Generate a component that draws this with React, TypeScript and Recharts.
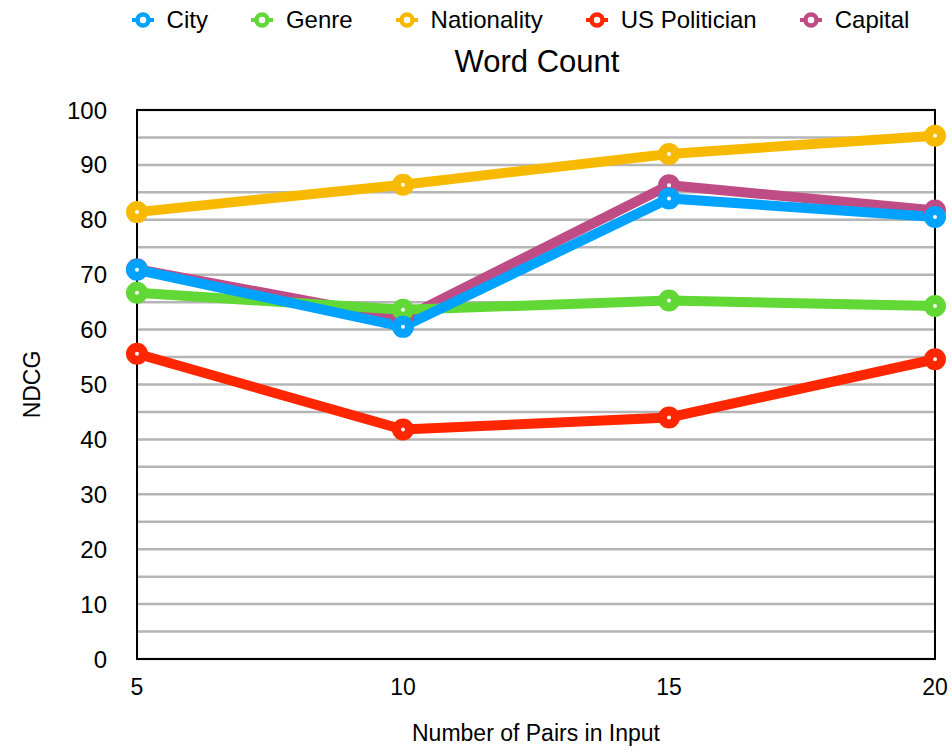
import { LineChart, Line, XAxis, YAxis, CartesianGrid, ReferenceArea, Label } from "recharts";

const pairs = [5, 10, 15, 20];
const city = [70.9, 60.5, 83.9, 80.5];
const genre = [66.7, 63.6, 65.3, 64.3];
const nationality = [81.4, 86.4, 92, 95.3];
const usPolitician = [55.6, 41.8, 44, 54.6];
const capital = [71, 62, 86.3, 81.7];
const yTicks = [0, 5, 10, 15, 20, 25, 30, 35, 40, 45, 50, 55, 60, 65, 70, 75, 80, 85, 90, 95, 100];
const xTicks = [5, 10, 15, 20];

const series = [
  { key: "city", name: "City", color: "#00a2ff", values: city },
  { key: "genre", name: "Genre", color: "#61d836", values: genre },
  { key: "nationality", name: "Nationality", color: "#f8ba00", values: nationality },
  { key: "us", name: "US Politician", color: "#ff2600", values: usPolitician },
  { key: "capital", name: "Capital", color: "#c04c86", values: capital },
];
// draw order: capital underneath, city on top
const drawOrder = ["capital", "genre", "us", "nationality", "city"];

const data = pairs.map((p, i) => {
  const row: Record<string, number> = { pairs: p };
  series.forEach((s) => (row[s.key] = s.values[i]));
  return row;
});

const font = "'Liberation Sans', Arial, Helvetica, sans-serif";

function LegendIcon({ color }: { color: string }) {
  return (
    <svg width={24} height={18} style={{ marginRight: 12 }}>
      <line x1={1} y1={9} x2={23} y2={9} stroke={color} strokeWidth={4} />
      <circle cx={12} cy={9} r={5.5} fill="#fff" stroke={color} strokeWidth={4.5} />
    </svg>
  );
}

export default function App() {
  return (
    <div style={{ position: "absolute", left: 0, top: 0, width: 952, height: 753, background: "#fff", fontFamily: font }}>
      <div style={{ position: "absolute", top: 6, left: 0, width: 1040, display: "flex", justifyContent: "center", gap: 42, fontSize: 24, color: "#000" }}>
        {series.map((s) => (
          <div key={s.key} style={{ display: "flex", alignItems: "center" }}>
            <LegendIcon color={s.color} />
            <span>{s.name}</span>
          </div>
        ))}
      </div>
      <div style={{ position: "absolute", top: 44, left: 0, width: 1074, textAlign: "center", fontSize: 31, color: "#000" }}>
        Word Count
      </div>
      <LineChart width={952} height={753} data={data} margin={{ top: 110, right: 17, bottom: 54, left: 20 }}>
        <CartesianGrid vertical={false} stroke="#b5b5b5" strokeWidth={2.5} />
        <XAxis
          dataKey="pairs"
          type="number"
          domain={[5, 20]}
          ticks={xTicks}
          tickSize={0}
          tickMargin={20}
          height={40}
          axisLine={{ stroke: "#000", strokeWidth: 2 }}
          tick={{ fill: "#000", fontSize: 23, fontFamily: font }}
        >
          <Label value="Number of Pairs in Input" position="insideBottom" offset={-42} fill="#000" fontSize={23} fontFamily={font} />
        </XAxis>
        <YAxis
          type="number"
          domain={[0, 100]}
          ticks={yTicks}
          interval={0}
          tickFormatter={(v: number) => (v % 10 === 0 ? String(v) : "")}
          tickSize={0}
          tickMargin={30}
          width={117}
          axisLine={{ stroke: "#000", strokeWidth: 2 }}
          tick={{ fill: "#000", fontSize: 24, fontFamily: font }}
        >
          <Label value="NDCG" angle={-90} position="insideLeft" offset={0} dx={12} fill="#000" fontSize={23} fontFamily={font} style={{ textAnchor: "middle" }} />
        </YAxis>
        <ReferenceArea x1={5} x2={20} y1={0} y2={100} fill="none" stroke="#000" strokeWidth={2} ifOverflow="visible" />
        {drawOrder.map((k) => {
          const s = series.find((x) => x.key === k)!;
          return (
            <Line
              key={k}
              dataKey={k}
              name={s.name}
              stroke={s.color}
              strokeWidth={10}
              dot={{ r: 6.5, fill: "#fff", stroke: s.color, strokeWidth: 9 }}
              activeDot={false}
              isAnimationActive={false}
            />
          );
        })}
      </LineChart>
    </div>
  );
}
